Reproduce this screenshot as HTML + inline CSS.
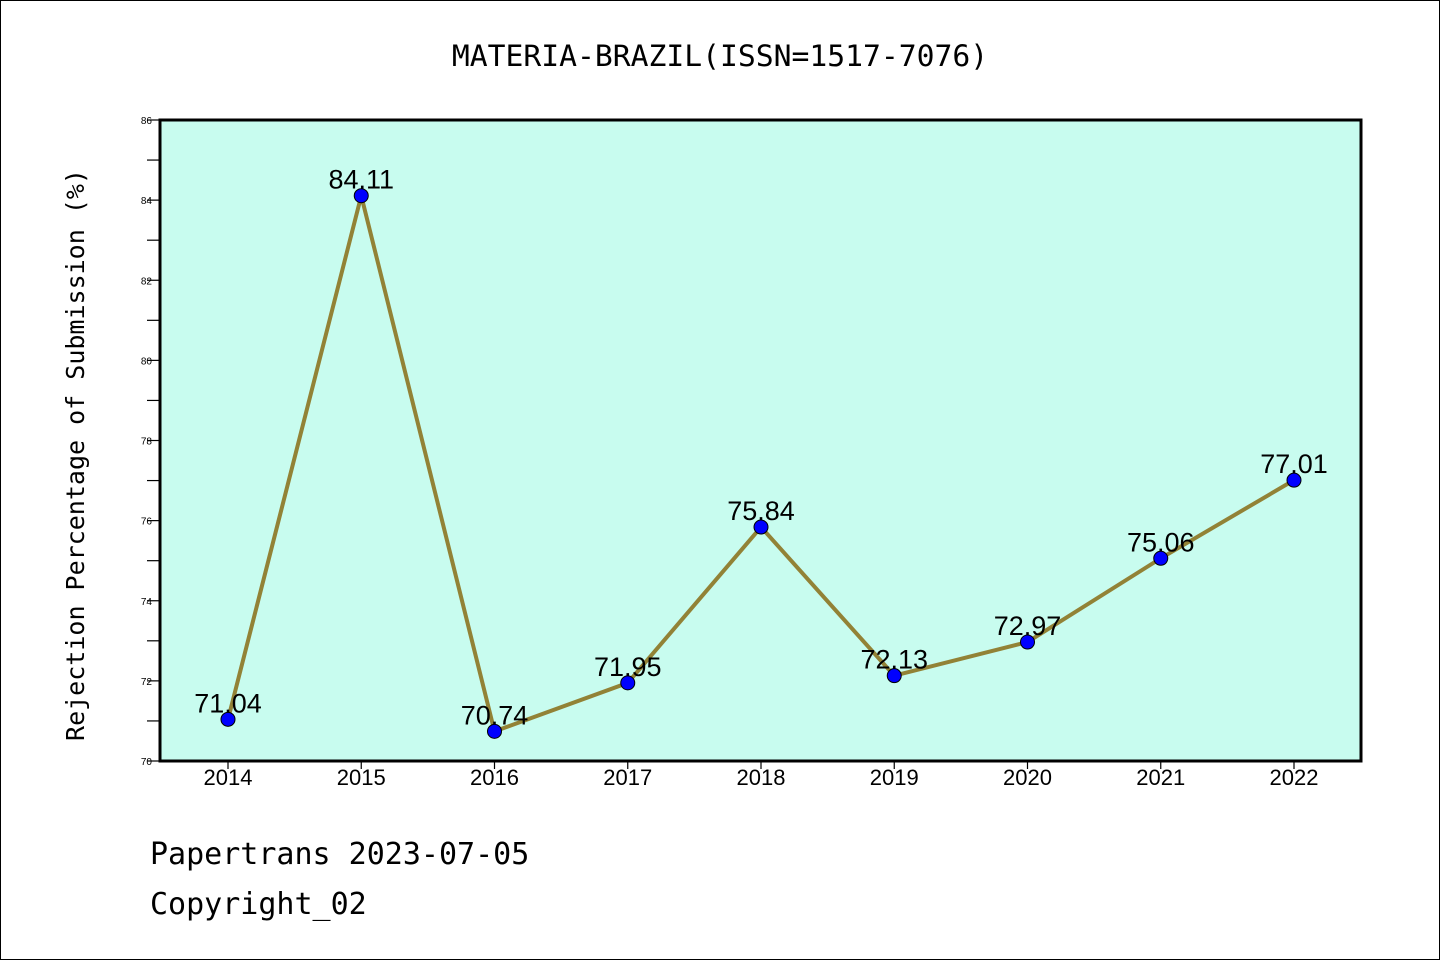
<!DOCTYPE html>
<html><head><meta charset="utf-8"><style>
body{margin:0;background:#fff;}
svg{display:block;font-family:"Liberation Sans","DejaVu Sans",sans-serif;}
.mono{font-family:"DejaVu Sans Mono","Liberation Mono",monospace;}
</style></head><body>
<svg id="chart" width="1440" height="960">
<rect x="0.5" y="0.5" width="1439" height="959" fill="#fff" stroke="#000"/>
<text x="720" y="66" text-anchor="middle" font-size="29.7" class="mono">MATERIA-BRAZIL(ISSN=1517-7076)</text>
<rect x="160" y="120" width="1201" height="641" fill="#c8fcef"/>
<g id="axes"></g>
<g id="marks"></g>
<rect x="160" y="120" width="1201" height="641" fill="none" stroke="#000" stroke-width="3"/>
<text transform="translate(84,455) rotate(-90)" text-anchor="middle" font-size="25" class="mono">Rejection Percentage of Submission (%)</text>
<text x="150" y="864" font-size="30" class="mono">Papertrans 2023-07-05</text>
<text x="150" y="914" font-size="30" class="mono">Copyright_02</text>
</svg>
<script>
const years=["2014","2015","2016","2017","2018","2019","2020","2021","2022"];
const values=[71.04,84.11,70.74,71.95,75.84,72.13,72.97,75.06,77.01];
const yTicks=[70,72,74,76,78,80,82,84,86];
const NS="http://www.w3.org/2000/svg";
const x0=228,dx=133.25,yMin=70,yMax=86,yTop=120,yBot=761;
const xs=i=>x0+i*dx;
const ys=v=>yBot-(v-yMin)/(yMax-yMin)*(yBot-yTop);
function mk(t,a,p){const e=document.createElementNS(NS,t);for(const k in a)e.setAttribute(k,a[k]);p.appendChild(e);return e;}
const ax=document.getElementById('axes'),mg=document.getElementById('marks');
for(let v=yMin;v<=yMax;v++){
 const t=mk('line',{x1:147,x2:160,y1:ys(v),y2:ys(v),stroke:'#000','stroke-width':1.2},ax);
 
 
}
yTicks.forEach(v=>{
 const t=mk('text',{x:152,y:ys(v)+4,'text-anchor':'end','font-size':10},ax);
 t.textContent=v;
 
 
});
years.forEach((y,i)=>{
 const l=mk('line',{x1:xs(i),x2:xs(i),y1:761,y2:769,stroke:'#000','stroke-width':1.2},ax);
 
 
 const t=mk('text',{x:xs(i),y:785,'text-anchor':'middle','font-size':22},ax);
 t.textContent=y;
 
 
});
const pl=mk('polyline',{points:values.map((v,i)=>xs(i)+','+ys(v)).join(' '),fill:'none',stroke:'#928236','stroke-width':4},mg);


values.forEach((v,i)=>{
 const c=mk('circle',{cx:xs(i),cy:ys(v),r:7,fill:'#0000ff',stroke:'#000','stroke-width':1},mg);
 
 
 const t=mk('text',{x:xs(i),y:ys(v)-7,'text-anchor':'middle','font-size':27},mg);
 t.textContent=v.toFixed(2);
 
 
});
</script>
</body></html>
